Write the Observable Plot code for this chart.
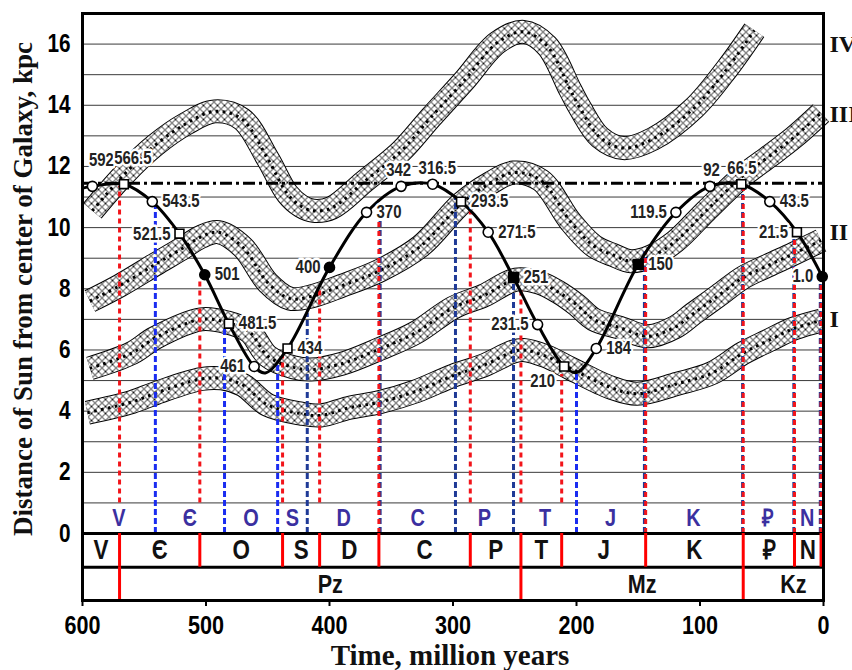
<!DOCTYPE html>
<html><head><meta charset="utf-8">
<script src="https://cdn.jsdelivr.net/npm/d3@7"></script>
<script src="https://cdn.jsdelivr.net/npm/@observablehq/plot@0.6"></script>
<style>body{margin:0;background:#fff} svg{display:block}</style>
</head><body><div id="chart"></div>
<script>
// ---- Sun's galactocentric distance curve (labelled points) ----
const pointAges = [592, 566.5, 543.5, 521.5, 501, 481.5, 461, 434, 400, 370, 342, 316.5, 293.5, 271.5, 251, 231.5, 210, 184, 150, 119.5, 92, 66.5, 43.5, 21.5, 1.0];
const pointDistances = [11.35, 11.42, 10.85, 9.8, 8.46, 6.86, 5.46, 6.05, 8.7, 10.5, 11.35, 11.42, 10.85, 9.85, 8.37, 6.83, 5.46, 6.05, 8.8, 10.5, 11.35, 11.42, 10.85, 9.85, 8.4];
const pointLabels = ["592","566.5","543.5","521.5","501","481.5","461","434","400","370","342","316.5","293.5","271.5","251","231.5","210","184","150","119.5","92","66.5","43.5","21.5","1.0"];
const pointMarkers = ["oc","os","oc","os","fc","os","oc","os","fc","oc","oc","oc","os","oc","fs","oc","os","oc","fs","oc","oc","os","oc","os","fc"];
const labelSides = ["aboveHigh","aboveHigh","right","left","right","right","left","right","left","right","aboveL","aboveR","right","right","right","left","belowLeft","right","right","left","aboveL","aboveR","right","left","left"];

// curve vertices (labelled points plus read turning points)
const curveAges = [599, 592, 566.5, 543.5, 521.5, 501, 481.5, 461, 452, 434, 400, 370, 342, 316.5, 293.5, 271.5, 251, 231.5, 210, 200, 184, 150, 119.5, 92, 66.5, 43.5, 21.5, 1.0];
const curveDistances = [11.3, 11.35, 11.42, 10.85, 9.8, 8.46, 6.86, 5.46, 5.25, 6.05, 8.7, 10.5, 11.35, 11.42, 10.85, 9.85, 8.37, 6.83, 5.46, 5.26, 6.05, 8.8, 10.5, 11.35, 11.42, 10.85, 9.85, 8.4];

const corotationLevel = 11.45;

// ---- spiral arm bands (centre lines) ----
const bandIAges = [596, 560, 540, 504, 487, 470, 450, 423, 407, 385, 359, 330, 300, 275, 251, 243, 225, 205, 172, 151, 118, 90, 65, 45, 24, 2];
const bandIValues = [3.95, 4.3, 4.6, 5.05, 5.07, 4.85, 4.2, 3.92, 3.86, 4.1, 4.3, 4.65, 5.16, 5.5, 5.95, 6.0, 5.8, 5.4, 4.77, 4.57, 4.9, 5.25, 5.9, 6.3, 6.7, 6.96];
const bandIIAges = [594, 560, 541, 504, 483, 465, 450, 429, 415, 390, 359, 330, 300, 275, 249, 230, 215, 200, 186, 165, 142, 120, 105, 85, 65, 45, 24, 2];
const bandIIValues = [5.4, 5.9, 6.4, 7.0, 6.9, 6.6, 5.8, 5.43, 5.36, 5.55, 6.04, 6.57, 7.38, 7.78, 8.3, 8.2, 7.9, 7.48, 7.0, 6.73, 6.45, 6.75, 7.2, 7.78, 8.37, 8.76, 9.15, 9.58];
const bandIIIAges = [594, 570, 541, 520, 504, 490, 470, 450, 432, 415, 390, 359, 326, 293, 270, 251, 229, 205, 186, 170, 156, 140, 120, 95, 65, 45, 24, 2];
const bandIIIValues = [7.6, 8.1, 8.8, 9.3, 9.7, 9.85, 9.35, 8.2, 7.68, 7.75, 8.1, 8.6, 9.4, 10.8, 11.45, 11.8, 11.55, 10.2, 9.4, 9.1, 8.9, 9.05, 9.55, 10.55, 11.7, 12.3, 12.95, 13.75];
const bandIVAges = [592, 566, 541, 516, 493, 471, 450, 434, 423, 413, 398, 372, 342, 318, 291, 264, 243, 224, 205, 197, 181, 162, 138, 105, 78, 56];
const bandIVValues = [10.55, 11.75, 12.7, 13.4, 13.8, 13.55, 12.25, 11.1, 10.7, 10.55, 10.65, 11.5, 12.5, 13.6, 14.8, 16.05, 16.4, 15.95, 14.5, 13.9, 12.95, 12.6, 12.9, 13.9, 15.2, 16.45];
const bandNames = ["I", "II", "III", "IV"];
const bandLabelLevels = [7.0, 9.85, 13.7, 16.0];

// ---- geological time scales ----
const periodNames = ["V", "Є", "O", "S", "D", "C", "P", "T", "J", "K", "₽", "N"];
const redBoundaries = [600, 570, 505, 438, 408, 360, 286, 245, 212, 144, 65, 23.5, 2];      // older scale
const blueBoundaries = [600, 541, 485, 442, 418, 359, 298, 251, 200, 145, 65.5, 24, 2.6];   // newer scale
const redLineTops = [11.35, 8.35, 5.8, 8.0, 10.9, 10.6, 8.05, 5.2, 9.2, 11.3, 9.7, 8.35];
const blueLineTops = [10.8, 6.7, 5.55, 7.2, 10.9, 11.0, 8.27, 5.25, 9.2, 11.3, 9.7, 8.3];
const blueLineShade = ["bright","bright","bright","dark","dark","dark","dark","bright","dark","dark","dark","dark"];
const eraNames = ["Pz", "Mz", "Kz"];
const eraBoundaries = [570, 245, 65, 0];

const xTicks = [600, 500, 400, 300, 200, 100, 0];
const yTicks = [0, 2, 4, 6, 8, 10, 12, 14, 16];
const gridLevels = d3.range(1, 17);

// ---------------------------------------------------------------
const SANS = "'Liberation Sans',Arial,sans-serif";   // condensed horizontally below
const SERIF = "'Times New Roman','Liberation Serif','DejaVu Serif',serif";
const RED = "#f2141a", BLUE = "#1a2cf0", NAVY = "#1f3a96", PURPLE = "#3b30a0";

const pts = pointAges.map((t, i) => ({t, d: pointDistances[i], m: pointMarkers[i], label: pointLabels[i], side: labelSides[i]}));
const curve = curveAges.map((t, i) => ({t, d: curveDistances[i]}));

const redLines = redBoundaries.slice(1).map((t, i) => ({
  t, top: redLineTops[i],
  bottom: blueBoundaries.slice(1).some(b => Math.abs(b - t) < 1.5) ? 0 : 1
}));
const blueLines = blueBoundaries.slice(1).map((t, i) => ({t, top: blueLineTops[i], shade: blueLineShade[i]}));

const mids = (b) => b.slice(0, -1).map((v, i) => (v + b[i + 1]) / 2);
const periodRed = periodNames.map((n, i) => ({n, t: mids(redBoundaries)[i]}));
const periodBlue = periodNames.map((n, i) => ({n, t: mids(blueBoundaries)[i]}));
const eras = eraNames.map((n, i) => ({n, t: (eraBoundaries[i] + eraBoundaries[i + 1]) / 2}));

function band(ages, vals) {
  const data = ages.map((t, i) => ({t, d: vals[i]}));
  const base = {x: "t", y: "d", curve: "catmull-rom", strokeLinecap: "butt", strokeLinejoin: "round"};
  return [
    Plot.line(data, {...base, stroke: "black", strokeWidth: 24}),
    Plot.line(data, {...base, stroke: "white", strokeWidth: 22}),
    Plot.line(data, {...base, stroke: "url(#hatch)", strokeWidth: 22}),
    Plot.line(data, {...base, stroke: "black", strokeWidth: 3, strokeDasharray: "2.6,4.4"})
  ];
}

const labelStyles = {
  right: {textAnchor: "start", dx: 10, dy: 0},
  left: {textAnchor: "end", dx: -9, dy: 0},
  aboveL: {textAnchor: "end", dx: 10, dy: -16},
  aboveR: {textAnchor: "start", dx: -14, dy: -16},
  aboveHigh: {textAnchor: "middle", dx: 9, dy: -26},
  belowLeft: {textAnchor: "end", dx: -9, dy: 15}
};
const labelMarks = Object.entries(labelStyles).map(([k, s]) =>
  Plot.text(pts.filter(p => p.side === k), {
    x: "t", y: "d", text: "label", ...s,
    fontSize: 18, fontWeight: "bold", fontFamily: SANS, fill: "#222",
    stroke: "white", strokeWidth: 5, paintOrder: "stroke"
  })
);

const markerMark = (m, symbol, fill, r) =>
  Plot.dot(pts.filter(p => p.m === m), {x: "t", y: "d", symbol, r, fill, stroke: "black", strokeWidth: 1.6});

const plot = Plot.plot({
  width: 852, height: 670,
  marginLeft: 82, marginRight: 29, marginTop: 13, marginBottom: 70,
  x: {domain: [600, 0]},
  y: {domain: [-2.19, 17]},
  style: {background: "white", fontFamily: SANS, overflow: "visible", color: "black"},
  marks: [
    Plot.ruleY(gridLevels, {stroke: "#3a3a3a", strokeWidth: 1}),
    ...band(bandIAges, bandIValues),
    ...band(bandIIAges, bandIIValues),
    ...band(bandIIIAges, bandIIIValues),
    ...band(bandIVAges, bandIVValues),
    Plot.ruleY([corotationLevel], {stroke: "black", strokeWidth: 3, strokeDasharray: "12,4,3,4"}),
    Plot.ruleX(blueLines.filter(d => d.shade === "bright"), {x: "t", y1: 0, y2: "top", stroke: BLUE, strokeWidth: 3, strokeDasharray: "6,3"}),
    Plot.ruleX(blueLines.filter(d => d.shade === "dark"), {x: "t", y1: 0, y2: "top", stroke: NAVY, strokeWidth: 3, strokeDasharray: "6,3"}),
    Plot.ruleX(redLines, {x: "t", y1: "bottom", y2: "top", stroke: RED, strokeWidth: 3, strokeDasharray: "5,4"}),
    Plot.line(curve, {x: "t", y: "d", curve: "catmull-rom", stroke: "black", strokeWidth: 3}),
    markerMark("oc", "circle", "white", 5),
    markerMark("os", "square", "white", 5),
    markerMark("fc", "circle", "black", 5),
    markerMark("fs", "square", "black", 5.5),
    ...labelMarks,
    // newer-scale period letters inside the plot
    Plot.text(periodBlue, {x: "t", y: 0.5, text: "n", fill: PURPLE, fontSize: 24, fontWeight: "bold", fontFamily: SANS}),
    // stratigraphic table
    Plot.ruleY([0, -1.1], {stroke: "black", strokeWidth: 3}),
    Plot.ruleX(redBoundaries.slice(1), {x: d => d, y1: 0, y2: -1.1, stroke: "red", strokeWidth: 3}),
    Plot.ruleX(eraBoundaries.slice(0, 3), {x: d => d, y1: -1.1, y2: -2.19, stroke: "red", strokeWidth: 3}),
    Plot.text(periodRed, {x: "t", y: -0.56, text: "n", fill: "#111", fontSize: 27, fontWeight: "bold", fontFamily: SANS}),
    Plot.text(eras, {x: "t", y: -1.68, text: "n", dx: 10, fill: "#111", fontSize: 26, fontWeight: "bold", fontFamily: SANS}),
    // arm names on the right
    Plot.text(bandNames, {x: 0, y: (d, i) => bandLabelLevels[i], text: d => d, textAnchor: "start", dx: 6, fontSize: 24, fontWeight: "bold", fontFamily: SERIF, fill: "#111"}),
    Plot.frame({stroke: "black", strokeWidth: 3}),
    Plot.axisY({ticks: yTicks, tickSize: 0, tickPadding: 12, fontSize: 25, fontWeight: "bold", fontFamily: SANS, label: null}),
    Plot.axisX({ticks: xTicks, tickSize: 6, tickPadding: 9, fontSize: 26, fontWeight: "bold", fontFamily: SANS, label: null, strokeWidth: 2})
  ]
});

// narrow the sans-serif labels (the original uses a condensed face)
plot.querySelectorAll("g").forEach(g => {
  if (g.getAttribute("font-family") === SANS) {
    g.querySelectorAll("text").forEach(t => {
      t.setAttribute("transform", (t.getAttribute("transform") || "") + " scale(0.83,1)");
    });
  }
});

// hatch pattern for the arm bands
const ns = "http://www.w3.org/2000/svg";
const defs = document.createElementNS(ns, "defs");
defs.innerHTML = '<pattern id="hatch" patternUnits="userSpaceOnUse" width="7" height="7">' +
  '<path d="M-1,-1 L8,8 M-1,8 L8,-1" stroke="#000" stroke-width="0.9" fill="none" shape-rendering="crispEdges"/></pattern>';
plot.insertBefore(defs, plot.firstChild);

// axis titles
const svg = d3.select(plot);
svg.append("text").attr("x", 450).attr("y", 665).attr("text-anchor", "middle")
  .attr("font-family", SERIF).attr("font-weight", "bold").attr("font-size", 29).attr("fill", "#111")
  .text("Time, million years");
svg.append("text").attr("transform", "translate(32,289) rotate(-90)").attr("text-anchor", "middle")
  .attr("font-family", SERIF).attr("font-weight", "bold").attr("font-size", 27).attr("fill", "#111")
  .text("Distance of Sun from center of Galaxy, kpc");

document.getElementById("chart").appendChild(plot);
</script>
</body></html>
